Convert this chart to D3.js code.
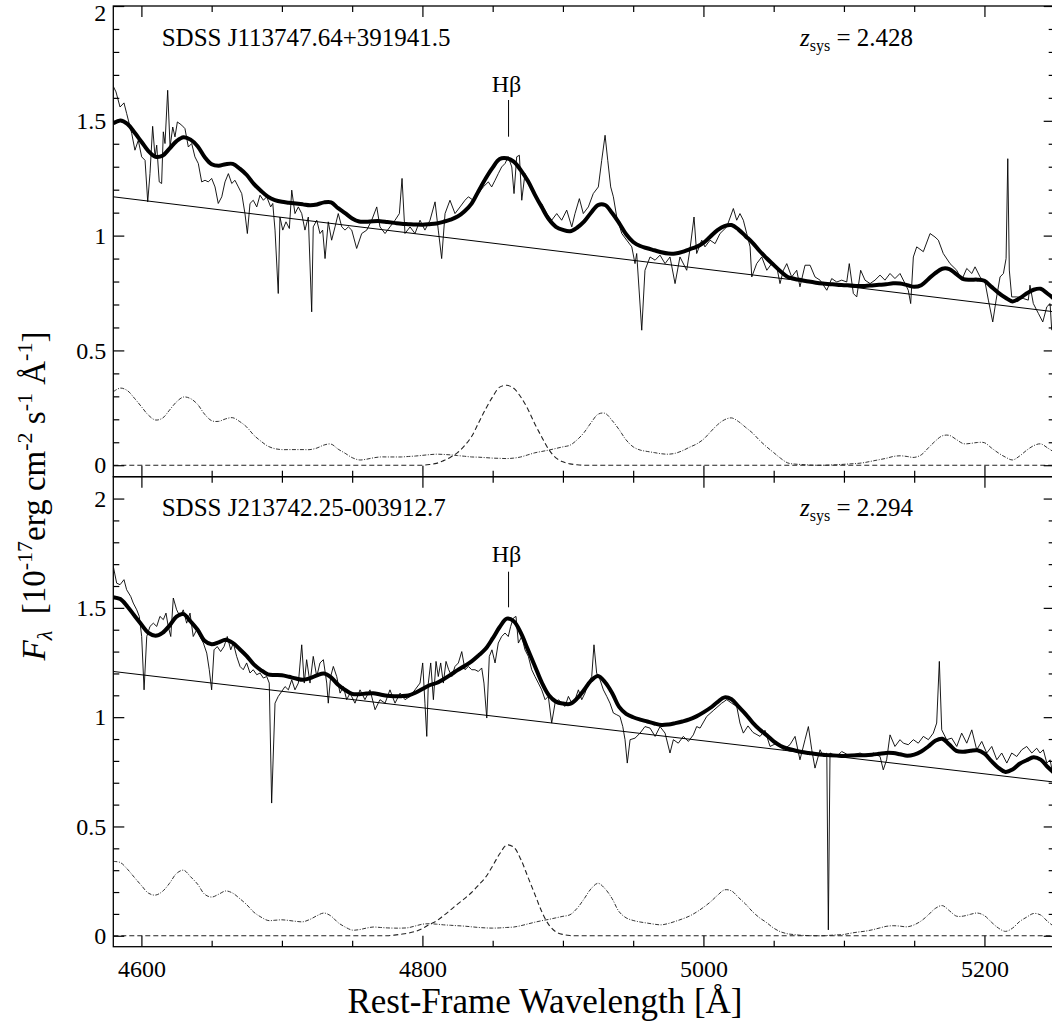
<!DOCTYPE html>
<html><head><meta charset="utf-8">
<script src="https://cdn.jsdelivr.net/npm/d3@7"></script>
<style>
html,body{margin:0;padding:0;background:#fff;}
svg{display:block;font-family:"Liberation Serif","Times New Roman",serif;}
</style></head><body>
<svg id="chart" width="1052" height="1028"></svg>
<script>
// ---------------- DATA ----------------
const topName = "SDSS J113747.64+391941.5";
const topZ = "2.428";
const botName = "SDSS J213742.25-003912.7";
const botZ = "2.294";
const hbetaWave = 4861.3;

const xTicksMajor = [4600, 4800, 5000, 5200];
const yTicksMajor = [0, 0.5, 1, 1.5, 2];

// wavelength grid (5 A) of the smooth components
const gridWave = d3.range(4580, 5251, 5);

// power-law continuum end points [wavelength, flux]
const topCont = [[4580, 1.169], [5250, 0.668]];
const botCont = [[4580, 1.209], [5250, 0.703]];

// Fe II template on gridWave
const topFeII = [0.32,0.336,0.325,0.292,0.255,0.218,0.197,0.205,0.24,0.276,
0.297,0.29,0.265,0.222,0.194,0.191,0.202,0.207,0.19,0.166,
0.131,0.105,0.083,0.072,0.068,0.068,0.068,0.068,0.068,0.075,
0.088,0.092,0.07,0.052,0.033,0.023,0.026,0.032,0.036,0.036,
0.036,0.036,0.038,0.040,0.043,0.046,0.048,0.047,0.045,0.042,
0.039,0.036,0.035,0.033,0.031,0.03,0.029,0.031,0.036,0.045,
0.054,0.06,0.066,0.073,0.08,0.087,0.11,0.142,0.185,0.222,
0.226,0.195,0.155,0.11,0.08,0.066,0.06,0.055,0.05,0.048,
0.052,0.063,0.078,0.092,0.113,0.145,0.176,0.198,0.206,0.19,
0.165,0.14,0.108,0.08,0.055,0.03,0.01,0.005,0.003,0.001,
0,0,0.001,0.002,0.004,0.006,0.008,0.012,0.018,0.024,
0.03,0.038,0.041,0.038,0.034,0.045,0.075,0.105,0.128,0.13,
0.112,0.094,0.095,0.099,0.098,0.075,0.053,0.035,0.023,0.04,
0.065,0.085,0.093,0.075,0.055];
const botFeII = [0.34,0.335,0.305,0.267,0.23,0.195,0.186,0.203,0.24,0.285,
0.3,0.27,0.236,0.19,0.177,0.19,0.205,0.195,0.17,0.142,
0.108,0.086,0.07,0.071,0.073,0.07,0.066,0.064,0.075,0.092,
0.104,0.09,0.06,0.04,0.026,0.028,0.035,0.04,0.038,0.036,
0.035,0.035,0.037,0.045,0.053,0.055,0.053,0.05,0.048,0.046,
0.044,0.041,0.038,0.036,0.035,0.036,0.038,0.04,0.046,0.054,
0.062,0.069,0.075,0.082,0.089,0.096,0.125,0.168,0.215,0.24,
0.215,0.17,0.11,0.082,0.07,0.063,0.058,0.053,0.05,0.056,
0.066,0.077,0.09,0.108,0.13,0.155,0.185,0.21,0.205,0.175,
0.145,0.11,0.082,0.06,0.035,0.018,0.009,0.005,0.002,0.001,
0,0,0.002,0.004,0.006,0.012,0.017,0.021,0.027,0.035,
0.043,0.046,0.044,0.041,0.05,0.068,0.095,0.125,0.138,0.115,
0.09,0.09,0.098,0.104,0.092,0.062,0.035,0.02,0.035,0.065,
0.085,0.102,0.095,0.065,0.04];

// broad H-beta component [wavelength, flux] (zero elsewhere)
const topHbeta = [[4800,0],[4805,0.003],[4810,0.008],[4815,0.02],[4820,0.035],[4825,0.055],[4830,0.085],[4835,0.125],[4840,0.185],[4845,0.245],[4850,0.298],[4855,0.34],[4860,0.348],[4865,0.335],[4870,0.297],[4875,0.245],[4880,0.18],[4885,0.122],[4890,0.068],[4895,0.032],[4900,0.015],[4905,0.006],[4910,0.002],[4915,0]];
const botHbeta = [[4775,0],[4780,0.003],[4785,0.007],[4790,0.012],[4795,0.02],[4800,0.033],[4805,0.052],[4810,0.068],[4815,0.092],[4820,0.118],[4825,0.145],[4830,0.17],[4835,0.198],[4840,0.232],[4845,0.268],[4850,0.32],[4855,0.375],[4860,0.415],[4865,0.405],[4870,0.35],[4875,0.27],[4880,0.19],[4885,0.11],[4890,0.05],[4895,0.018],[4900,0.006],[4905,0.001],[4910,0]];

// observed spectra [wavelength, flux]
const topSpectrum = [[4580.0,1.65],[4581.9,1.626],[4584.8,1.56],[4587.6,1.578],[4589.5,1.532],[4593.1,1.445],[4595.4,1.372],[4597.8,1.415],[4600.2,1.343],[4602.6,1.328],[4604.5,1.147],[4606.1,1.27],[4608.0,1.476],[4609.7,1.343],[4610.9,1.394],[4612.7,1.234],[4614.4,1.227],[4615.6,1.452],[4616.8,1.401],[4618.7,1.633],[4620.4,1.386],[4622.3,1.473],[4623.9,1.43],[4625.6,1.495],[4628.7,1.481],[4631.0,1.466],[4633.4,1.386],[4635.8,1.401],[4638.1,1.343],[4640.5,1.314],[4642.9,1.234],[4645.3,1.241],[4647.6,1.234],[4650.0,1.249],[4652.4,1.212],[4654.7,1.14],[4657.2,1.169],[4659.5,1.234],[4661.9,1.27],[4664.3,1.227],[4666.6,1.241],[4669.0,1.212],[4671.4,1.183],[4673.7,1.096],[4675.4,1.009],[4677.3,1.14],[4679.6,1.154],[4682.1,1.125],[4684.4,1.176],[4686.8,1.154],[4689.2,1.169],[4692.0,1.125],[4693.5,1.14],[4695.1,1.024],[4697.4,0.748],[4698.6,1.081],[4700.6,1.024],[4702.9,1.06],[4705.3,1.031],[4707.0,1.198],[4709.3,1.096],[4711.7,1.125],[4714.1,1.096],[4716.4,1.024],[4718.8,1.081],[4721.2,0.668],[4722.3,1.038],[4724.8,1.067],[4727.1,1.009],[4729.0,1.024],[4730.7,0.90],[4733.0,1.06],[4735.4,0.98],[4737.8,1.038],[4740.1,1.096],[4742.6,1.038],[4744.9,1.024],[4747.3,1.038],[4749.7,1.024],[4753.2,0.944],[4756.8,1.009],[4760.4,1.024],[4763.9,1.067],[4767.5,1.125],[4769.8,1.038],[4773.4,1.009],[4776.9,1.038],[4780.5,1.067],[4783.6,1.096],[4785.5,1.249],[4787.6,1.009],[4791.2,1.038],[4794.7,1.009],[4798.3,1.067],[4801.8,1.024],[4805.4,1.067],[4809.0,1.147],[4811.3,1.024],[4813.7,0.90],[4816.1,1.096],[4819.6,1.154],[4823.2,1.096],[4826.8,1.125],[4830.3,1.154],[4832.7,1.169],[4836.2,1.154],[4839.8,1.183],[4843.3,1.212],[4846.9,1.234],[4849.3,1.212],[4851.7,1.241],[4854.0,1.27],[4856.4,1.299],[4858.8,1.314],[4861.1,1.343],[4863.6,1.299],[4865.2,1.183],[4867.1,1.343],[4869.0,1.35],[4870.7,1.154],[4873.0,1.27],[4875.4,1.234],[4877.8,1.212],[4880.1,1.183],[4882.5,1.154],[4884.9,1.14],[4888.5,1.096],[4892.0,1.067],[4895.6,1.096],[4899.1,1.067],[4902.7,1.111],[4906.3,1.038],[4908.6,1.096],[4911.7,1.161],[4914.5,1.096],[4918.1,1.125],[4921.6,1.183],[4925.2,1.212],[4927.6,1.328],[4930.0,1.437],[4931.9,1.328],[4934.0,1.212],[4935.9,1.169],[4938.3,1.081],[4941.9,1.009],[4945.4,0.98],[4949.0,0.951],[4951.3,0.878],[4952.5,0.922],[4956.1,0.588],[4958.4,0.849],[4962.0,0.907],[4965.6,0.893],[4969.1,0.915],[4972.7,0.878],[4976.2,0.907],[4979.8,0.791],[4983.3,0.907],[4988.1,0.849],[4990.5,0.944],[4993.3,1.081],[4995.2,0.922],[4998.8,0.98],[5001.1,0.951],[5004.7,0.98],[5008.3,0.965],[5011.8,1.009],[5016.6,1.038],[5021.3,1.118],[5023.7,1.067],[5026.0,1.096],[5028.4,1.067],[5030.8,1.009],[5033.2,0.951],[5034.4,0.82],[5037.9,0.878],[5041.5,0.907],[5045.1,0.849],[5048.6,0.878],[5052.2,0.864],[5054.5,0.791],[5056.9,0.849],[5059.3,0.878],[5062.8,0.82],[5066.4,0.849],[5068.7,0.777],[5072.3,0.871],[5075.9,0.871],[5079.4,0.82],[5083.0,0.806],[5087.8,0.762],[5091.3,0.813],[5094.9,0.798],[5098.4,0.806],[5102.0,0.798],[5103.8,0.878],[5106.7,0.748],[5109.1,0.733],[5111.9,0.849],[5115.0,0.806],[5118.6,0.791],[5122.1,0.806],[5125.7,0.828],[5129.2,0.806],[5132.8,0.835],[5136.3,0.813],[5139.9,0.835],[5143.5,0.791],[5145.8,0.762],[5147.5,0.704],[5149.4,0.907],[5151.8,0.951],[5156.5,0.93],[5161.3,1.009],[5164.8,0.994],[5167.2,0.98],[5170.7,0.922],[5175.5,0.878],[5180.3,0.849],[5183.8,0.806],[5187.4,0.857],[5191.0,0.835],[5193.3,0.864],[5196.9,0.82],[5200.4,0.798],[5202.8,0.719],[5205.9,0.624],[5208.3,0.719],[5211.1,0.82],[5213.5,0.835],[5215.4,0.90],[5216.6,1.335],[5217.7,0.85],[5219.4,0.733],[5223.0,0.733],[5227.7,0.726],[5231.2,0.719],[5232.4,0.784],[5234.8,0.704],[5238.4,0.661],[5241.5,0.624],[5244.4,0.69],[5246.7,0.704],[5247.9,0.588]];

const botSpectrum = [[4580.0,1.689],[4582.4,1.613],[4584.8,1.606],[4587.6,1.629],[4589.5,1.583],[4592.4,1.552],[4594.2,1.522],[4596.7,1.491],[4598.5,1.461],[4600.2,1.369],[4601.9,1.125],[4603.8,1.369],[4606.1,1.415],[4608.5,1.43],[4610.9,1.415],[4613.2,1.461],[4615.6,1.446],[4617.5,1.476],[4619.1,1.415],[4620.9,1.369],[4622.7,1.545],[4625.1,1.491],[4627.5,1.461],[4629.8,1.491],[4632.2,1.43],[4634.6,1.476],[4636.9,1.369],[4639.4,1.4],[4641.7,1.369],[4644.1,1.339],[4646.5,1.293],[4648.3,1.217],[4650.0,1.125],[4651.7,1.308],[4654.0,1.323],[4656.4,1.3],[4658.8,1.323],[4661.1,1.369],[4663.6,1.308],[4665.4,1.339],[4667.8,1.278],[4670.2,1.232],[4672.5,1.217],[4674.9,1.248],[4677.3,1.202],[4679.6,1.217],[4682.1,1.194],[4684.4,1.202],[4686.8,1.179],[4689.2,1.186],[4691.0,1.156],[4692.7,0.607],[4695.1,1.064],[4697.4,1.095],[4699.9,1.118],[4702.2,1.14],[4704.6,1.125],[4707.0,1.171],[4709.3,1.125],[4711.7,1.156],[4714.1,1.331],[4715.9,1.156],[4717.6,1.263],[4720.0,1.156],[4722.3,1.278],[4724.8,1.186],[4727.1,1.248],[4729.5,1.263],[4731.9,1.156],[4733.0,1.064],[4734.7,1.186],[4736.6,1.232],[4739.0,1.186],[4741.4,1.11],[4743.7,1.14],[4746.1,1.08],[4748.5,1.11],[4752.0,1.064],[4755.6,1.125],[4759.1,1.08],[4762.7,1.125],[4766.3,1.034],[4769.8,1.08],[4773.4,1.064],[4776.9,1.125],[4780.5,1.064],[4784.1,1.11],[4787.6,1.08],[4791.2,1.095],[4794.7,1.125],[4798.3,1.156],[4800.2,1.248],[4801.8,1.064],[4803.1,0.912],[4804.2,1.156],[4805.9,1.248],[4807.8,1.08],[4809.7,1.255],[4811.3,1.186],[4813.0,1.248],[4814.9,1.156],[4816.8,1.255],[4818.7,1.217],[4820.9,1.186],[4823.2,1.232],[4825.6,1.248],[4828.0,1.3],[4830.3,1.217],[4832.7,1.232],[4835.1,1.217],[4837.4,1.217],[4839.8,1.209],[4842.2,1.225],[4843.8,1.156],[4845.8,0.996],[4847.6,1.278],[4849.5,1.308],[4851.7,1.248],[4854.0,1.339],[4856.4,1.369],[4858.8,1.385],[4861.1,1.369],[4862.8,1.415],[4864.7,1.453],[4866.6,1.461],[4868.3,1.339],[4870.7,1.369],[4873.0,1.308],[4875.4,1.278],[4877.8,1.217],[4880.1,1.186],[4882.5,1.156],[4884.9,1.125],[4887.3,1.08],[4889.6,1.095],[4892.0,0.973],[4894.4,1.064],[4896.8,1.08],[4899.1,1.064],[4901.5,1.049],[4903.9,1.095],[4906.3,1.064],[4908.6,1.08],[4911.0,1.125],[4913.4,1.08],[4915.7,1.11],[4918.1,1.156],[4920.5,1.186],[4922.1,1.331],[4924.0,1.202],[4926.4,1.171],[4928.8,1.125],[4931.2,1.095],[4933.5,1.064],[4935.9,1.019],[4938.3,1.011],[4940.6,1.003],[4942.6,0.957],[4944.2,0.897],[4945.8,0.79],[4947.8,0.897],[4951.3,0.904],[4954.9,0.927],[4958.4,0.957],[4962.0,0.95],[4965.6,0.912],[4969.1,0.957],[4972.7,0.927],[4976.2,0.836],[4978.6,0.897],[4982.1,0.881],[4985.7,0.912],[4989.3,0.889],[4992.8,0.919],[4995.2,0.957],[4997.6,0.95],[5002.3,1.003],[5007.0,1.03],[5013.0,1.064],[5016.6,1.08],[5020.1,1.064],[5023.7,1.049],[5026.0,0.973],[5028.4,0.927],[5031.7,0.96],[5035.3,0.93],[5040.3,0.912],[5043.8,0.94],[5047.4,0.866],[5052.2,0.881],[5056.9,0.851],[5061.6,0.874],[5065.2,0.912],[5068.7,0.805],[5072.3,0.897],[5074.7,0.957],[5077.1,0.851],[5079.4,0.767],[5083.0,0.851],[5085.3,0.82],[5087.8,0.836],[5088.9,0.027],[5090.1,0.836],[5094.9,0.82],[5098.4,0.843],[5102.2,0.83],[5106.7,0.828],[5111.5,0.836],[5116.2,0.82],[5120.9,0.836],[5125.7,0.82],[5128.0,0.759],[5130.4,0.805],[5132.8,0.919],[5136.3,0.866],[5139.9,0.897],[5142.3,0.881],[5145.8,0.874],[5149.4,0.897],[5152.9,0.881],[5156.5,0.912],[5160.1,0.897],[5163.6,0.927],[5166.0,0.973],[5167.9,1.255],[5169.6,0.942],[5173.1,0.897],[5176.7,0.904],[5180.3,0.866],[5183.8,0.927],[5187.4,0.881],[5191.0,0.942],[5194.5,0.851],[5198.1,0.889],[5201.6,0.836],[5205.2,0.866],[5208.8,0.805],[5212.3,0.836],[5215.9,0.79],[5219.4,0.836],[5223.0,0.82],[5226.6,0.851],[5230.1,0.866],[5233.7,0.836],[5237.2,0.858],[5239.6,0.836],[5241.9,0.851],[5244.4,0.79],[5246.7,0.805],[5248.1,0.759]];

// ---------------- LAYOUT ----------------
const svg = d3.select("#chart");
const xL = 113.3, xR = 1054.7;
const x = d3.scaleLinear().domain([4580, 5250]).range([xL, xR]);

const panels = [
  {id: "top", name: topName, z: topZ, spec: topSpectrum, fe: topFeII, hb: topHbeta, cont: topCont,
   yDomain: [-0.05, 2.0], yTop: 6, yBot: 476.7, textY: 46, hbLabelY: 91.7, hbLine: [100, 136.7], showX: false},
  {id: "bot", name: botName, z: botZ, spec: botSpectrum, fe: botFeII, hb: botHbeta, cont: botCont,
   yDomain: [-0.05, 2.1], yTop: 476.7, yBot: 946.7, textY: 515.5, hbLabelY: 561.7, hbLine: [571.7, 607.3], showX: true}
];

const FONT = '"Liberation Serif","Times New Roman",serif';

panels.forEach(p => {
  const y = d3.scaleLinear().domain(p.yDomain).range([p.yBot, p.yTop]);
  const g = svg.append("g");
  const clipId = "clip-" + p.id;
  svg.append("clipPath").attr("id", clipId).append("rect")
    .attr("x", xL).attr("y", p.yTop).attr("width", xR - xL).attr("height", p.yBot - p.yTop);

  const contScale = d3.scaleLinear().domain(p.cont.map(d => d[0])).range(p.cont.map(d => d[1]));
  const hbMap = new Map(p.hb.map(d => [d[0], d[1]]));
  const feSeries = gridWave.map((w, i) => [w, p.fe[i]]);
  const hbSeries = gridWave.map(w => [w, hbMap.get(w) || 0]);
  const modelSeries = gridWave.map((w, i) => [w, contScale(w) + p.fe[i] + (hbMap.get(w) || 0)]);

  const smooth = d3.line().x(d => x(d[0])).y(d => y(d[1])).curve(d3.curveCatmullRom.alpha(0.5));
  const straight = d3.line().x(d => x(d[0])).y(d => y(d[1]));

  const plot = g.append("g").attr("clip-path", `url(#${clipId})`);
  // Fe II template (dash-dot)
  plot.append("path").datum(feSeries).attr("d", smooth)
    .attr("fill", "none").attr("stroke", "#333").attr("stroke-width", 1)
    .attr("stroke-dasharray", "4,1.5,1,1.5");
  // broad H-beta (dashed)
  plot.append("path").datum(hbSeries).attr("d", smooth)
    .attr("fill", "none").attr("stroke", "#222").attr("stroke-width", 1.1)
    .attr("stroke-dasharray", "5,3");
  // continuum
  plot.append("path").datum(p.cont).attr("d", straight)
    .attr("fill", "none").attr("stroke", "#000").attr("stroke-width", 1);
  // observed spectrum
  plot.append("path").datum(p.spec).attr("d", straight)
    .attr("fill", "none").attr("stroke", "#000").attr("stroke-width", 0.9)
    .attr("stroke-linejoin", "round");
  // total model
  plot.append("path").datum(modelSeries).attr("d", smooth)
    .attr("fill", "none").attr("stroke", "#000").attr("stroke-width", 4)
    .attr("stroke-linejoin", "round");

  // ---- axes ----
  const yMinor = d3.range(0, 2.01, 0.1).map(v => +v.toFixed(1)).filter(v => yTicksMajor.indexOf(v) < 0);
  const xMinor = d3.range(4600, 5250, 50).filter(v => xTicksMajor.indexOf(v) < 0);

  function styleAxis(sel) {
    sel.select(".domain").remove();
    sel.selectAll("line").attr("stroke", "#000").attr("stroke-width", 1.2);
    sel.attr("font-family", FONT).attr("font-size", 24);
    sel.selectAll("text").attr("fill", "#000");
  }
  // left
  g.append("g").attr("transform", `translate(${xL},0)`)
    .call(d3.axisLeft(y).tickValues(yTicksMajor).tickSizeInner(-11).tickSizeOuter(0).tickPadding(7).tickFormat(d => String(d)))
    .call(styleAxis)
    .call(s => { if (p.id === "top") s.selectAll(".tick text").filter(d => d === 2).attr("dy", "0.62em"); });
  g.append("g").attr("transform", `translate(${xL},0)`)
    .call(d3.axisLeft(y).tickValues(yMinor).tickSizeInner(-6).tickSizeOuter(0).tickFormat(""))
    .call(styleAxis);
  // right
  g.append("g").attr("transform", `translate(${xR},0)`)
    .call(d3.axisRight(y).tickValues(yTicksMajor).tickSizeInner(-11).tickSizeOuter(0).tickFormat(""))
    .call(styleAxis);
  g.append("g").attr("transform", `translate(${xR},0)`)
    .call(d3.axisRight(y).tickValues(yMinor).tickSizeInner(-6).tickSizeOuter(0).tickFormat(""))
    .call(styleAxis);
  // top
  g.append("g").attr("transform", `translate(0,${p.yTop})`)
    .call(d3.axisTop(x).tickValues(xTicksMajor).tickSizeInner(-11).tickSizeOuter(0).tickFormat(""))
    .call(styleAxis);
  g.append("g").attr("transform", `translate(0,${p.yTop})`)
    .call(d3.axisTop(x).tickValues(xMinor).tickSizeInner(-6).tickSizeOuter(0).tickFormat(""))
    .call(styleAxis);
  // bottom
  g.append("g").attr("transform", `translate(0,${p.yBot})`)
    .call(d3.axisBottom(x).tickValues(xTicksMajor).tickSizeInner(-11).tickSizeOuter(0).tickPadding(13)
      .tickFormat(p.showX ? (d => String(d)) : ""))
    .call(styleAxis);
  g.append("g").attr("transform", `translate(0,${p.yBot})`)
    .call(d3.axisBottom(x).tickValues(xMinor).tickSizeInner(-6).tickSizeOuter(0).tickFormat(""))
    .call(styleAxis);

  // frame
  g.append("rect").attr("x", xL).attr("y", p.yTop).attr("width", xR - xL).attr("height", p.yBot - p.yTop)
    .attr("fill", "none").attr("stroke", "#000").attr("stroke-width", 1.3);

  // labels
  g.append("text").attr("x", 161.7).attr("y", p.textY)
    .attr("font-family", FONT).attr("font-size", 25).attr("fill", "#000").text(p.name);
  const zt = g.append("text").attr("x", 800).attr("y", p.textY)
    .attr("font-family", FONT).attr("font-size", 25).attr("fill", "#000");
  zt.append("tspan").attr("font-style", "italic").text("z");
  zt.append("tspan").attr("font-size", 16).attr("dy", 5).text("sys");
  zt.append("tspan").attr("dy", -5).text("\u00A0= " + p.z);

  g.append("text").attr("x", x(hbetaWave) - 2).attr("y", p.hbLabelY).attr("text-anchor", "middle")
    .attr("font-family", FONT).attr("font-size", 24).attr("fill", "#000").text("H\u03B2");
  g.append("line").attr("x1", x(hbetaWave)).attr("x2", x(hbetaWave))
    .attr("y1", p.hbLine[0]).attr("y2", p.hbLine[1]).attr("stroke", "#000").attr("stroke-width", 1);
});

// axis titles
svg.append("text").attr("x", 545).attr("y", 1013).attr("text-anchor", "middle")
  .attr("font-family", FONT).attr("font-size", 35).attr("fill", "#000")
  .text("Rest-Frame Wavelength [\u00C5]");

const yt = svg.append("text").attr("transform", "translate(45,496) rotate(-90)").attr("text-anchor", "middle")
  .attr("font-family", FONT).attr("font-size", 33).attr("fill", "#000");
yt.append("tspan").attr("font-style", "italic").text("F");
yt.append("tspan").attr("font-style", "italic").attr("font-size", 22).attr("dy", 7).text("\u03BB");
yt.append("tspan").attr("dy", -7).text("\u00A0\u00A0[10");
yt.append("tspan").attr("font-size", 22).attr("dy", -13).text("-17");
yt.append("tspan").attr("dy", 13).text("erg cm");
yt.append("tspan").attr("font-size", 22).attr("dy", -13).text("-2");
yt.append("tspan").attr("dy", 13).text("\u00A0s");
yt.append("tspan").attr("font-size", 22).attr("dy", -13).text("-1");
yt.append("tspan").attr("dy", 13).text("\u00A0\u00C5");
yt.append("tspan").attr("font-size", 22).attr("dy", -13).text("-1");
yt.append("tspan").attr("dy", 13).text("]");
</script></body></html>
